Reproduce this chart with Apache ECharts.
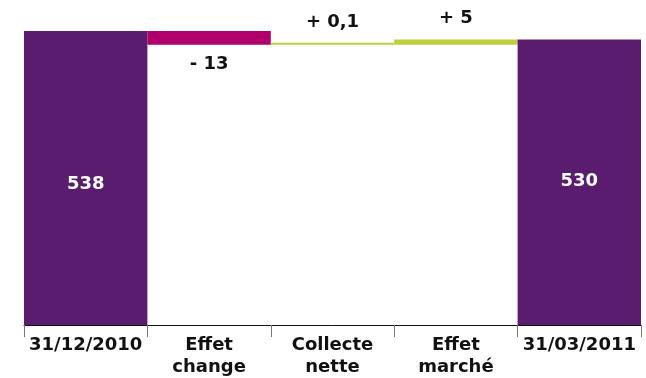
<!DOCTYPE html>
<html>
<head>
<meta charset="utf-8">
<script src="https://cdn.jsdelivr.net/npm/echarts@6/dist/echarts.min.js"></script>
<style>
  html, body { margin: 0; padding: 0; background: #ffffff; }
  #chart { width: 646px; height: 378px; }
</style>
</head>
<body>
<div id="chart"></div>
<script>
// Assets under management bridge, Q1 2011 (bn €)
const categories = ['31/12/2010', 'Effet\nchange', 'Collecte\nnette', 'Effet\nmarché', '31/03/2011'];
const values = [538, -13, 0.1, 5, 530];
const isTotal = [true, false, false, false, true];

const PURPLE = '#591c6f';
const MAGENTA = '#b0006a';
const LIME = '#bfcf3e';

// Build invisible base + visible segment for each step of the bridge
const baseData = [];
const barData = [];
let running = 0;
values.forEach(function (v, i) {
  if (isTotal[i]) {
    running = v;
    baseData.push(0);
    barData.push({ value: v, raw: v, itemStyle: { color: PURPLE },
      label: { position: 'inside', color: '#ffffff', offset: [0, i === 0 ? 6 : -1] } });
  } else {
    const start = running;
    running = start + v;
    baseData.push(Math.min(start, running));
    barData.push({ value: Math.abs(v), raw: v,
      itemStyle: { color: v < 0 ? MAGENTA : LIME },
      label: { position: v < 0 ? 'bottom' : 'top', distance: v < 0 ? 10 : 12, color: '#111111' } });
  }
});

function fmt(v, total) {
  const s = String(Math.abs(v)).replace('.', ',');
  if (total) return s;
  return (v < 0 ? '- ' : '+ ') + s;
}

const chart = echarts.init(document.getElementById('chart'), null, { renderer: 'canvas' });
chart.setOption({
  animation: false,
  backgroundColor: '#ffffff',
  grid: { left: 24, right: 5, top: 31, bottom: 53 },
  xAxis: {
    type: 'category',
    data: categories,
    axisLine: { lineStyle: { color: '#111111', width: 1 } },
    axisTick: { show: true, length: 12, lineStyle: { color: '#777777', width: 1 } },
    axisLabel: {
      interval: 0,
      margin: 9,
      fontFamily: 'DejaVu Sans',
      fontWeight: 'bold',
      fontSize: 18,
      lineHeight: 22,
      color: '#111111'
    }
  },
  yAxis: {
    type: 'value',
    min: 262,
    max: 538,
    show: false,
    splitLine: { show: false }
  },
  series: [
    {
      type: 'bar',
      stack: 'bridge',
      data: baseData,
      itemStyle: { color: 'transparent' },
      barWidth: '100%',
      silent: true
    },
    {
      type: 'bar',
      stack: 'bridge',
      data: barData,
      barWidth: '100%',
      barMinHeight: 2,
      label: {
        show: true,
        fontFamily: 'DejaVu Sans',
        fontWeight: 'bold',
        fontSize: 18,
        formatter: function (p) { return fmt(p.data.raw, isTotal[p.dataIndex]); }
      }
    }
  ]
});
</script>
</body>
</html>
